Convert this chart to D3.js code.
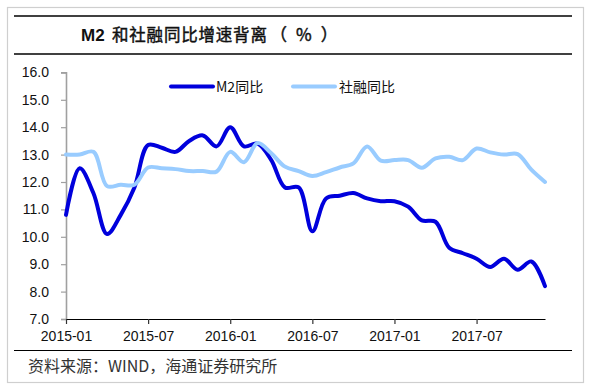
<!DOCTYPE html>
<html>
<head>
<meta charset="utf-8">
<script src="https://cdn.jsdelivr.net/npm/d3@7/dist/d3.min.js"></script>
<style>
  html, body { margin: 0; padding: 0; background: #fff; }
  svg { display: block; }
</style>
</head>
<body>
<div id="chart"></div>
<script>
const months = [
  "2015-01","2015-02","2015-03","2015-04","2015-05","2015-06","2015-07","2015-08","2015-09","2015-10","2015-11","2015-12",
  "2016-01","2016-02","2016-03","2016-04","2016-05","2016-06","2016-07","2016-08","2016-09","2016-10","2016-11","2016-12",
  "2017-01","2017-02","2017-03","2017-04","2017-05","2017-06","2017-07","2017-08","2017-09","2017-10","2017-11","2017-12"
];
const m2Values = [
  10.8, 12.5, 11.6, 10.1, 10.8, 11.8, 13.35, 13.25, 13.1, 13.5, 13.7, 13.3,
  14.0, 13.3, 13.4, 12.8, 11.8, 11.8, 10.2, 11.4, 11.5, 11.6, 11.4, 11.3,
  11.3, 11.1, 10.6, 10.55, 9.6, 9.4, 9.2, 8.9, 9.2, 8.8, 9.1, 8.2
];
const tsfValues = [
  13.0, 13.0, 13.1, 11.85, 11.9, 11.9, 12.53, 12.5, 12.47, 12.4, 12.4, 12.38,
  13.1, 12.72, 13.42, 13.05, 12.56, 12.4, 12.22, 12.36, 12.53, 12.68, 13.3, 12.78,
  12.8, 12.8, 12.52, 12.86, 12.92, 12.8, 13.22, 13.08, 13.0, 13.02, 12.45, 12.0
];
const seriesNames = ["M2同比", "社融同比"];
const xTickLabels = ["2015-01","2015-07","2016-01","2016-07","2017-01","2017-07"];
const yTicks = [7, 8, 9, 10, 11, 12, 13, 14, 15, 16];
const titleMain = "M2";
const titleMid = "和社融同比增速背离";
const titleUnit = "（%）";
const sourceText = "资料来源：WIND，海通证券研究所";

const W = 593, H = 392;
const svg = d3.select("#chart").append("svg").attr("width", W).attr("height", H);

// frame
svg.append("rect").attr("x", 7.5).attr("y", 7.5).attr("width", 576).attr("height", 375)
  .attr("fill", "none").attr("stroke", "#cfcfcf").attr("stroke-width", 1.2);
svg.append("line").attr("x1", 14).attr("x2", 572).attr("y1", 16).attr("y2", 16).attr("stroke", "#000").attr("stroke-width", 1.3);
svg.append("line").attr("x1", 14).attr("x2", 572).attr("y1", 54).attr("y2", 54).attr("stroke", "#000").attr("stroke-width", 1.3);
svg.append("line").attr("x1", 14).attr("x2", 572).attr("y1", 350.5).attr("y2", 350.5).attr("stroke", "#000").attr("stroke-width", 1.2);

// title
const title = svg.append("text").attr("y", 41).attr("fill", "#111");
title.append("tspan").attr("x", 81).text(titleMain)
  .attr("font-family", "Liberation Sans, Arial, sans-serif").attr("font-weight", "bold").attr("font-size", 17);
title.append("tspan").attr("x", 112).text(titleMid)
  .attr("font-family", "Noto Sans CJK SC, sans-serif").attr("font-size", 16.5)
  .attr("letter-spacing", 0.8).attr("stroke", "#111").attr("stroke-width", 0.45);
title.append("tspan").attr("x", 270).text(titleUnit)
  .attr("font-family", "Noto Sans CJK SC, sans-serif").attr("font-size", 17)
  .attr("letter-spacing", 9).attr("stroke", "#111").attr("stroke-width", 0.45);

// source
svg.append("text").attr("x", 28).attr("y", 372).text(sourceText)
  .attr("font-family", "Noto Sans CJK SC, sans-serif").attr("font-size", 16).attr("fill", "#333");

// scales
const x = d3.scalePoint().domain(months).range([66, 545]);
const y = d3.scaleLinear().domain([7, 16]).range([319, 72.4]);

// y axis
const yAxis = svg.append("g").attr("transform", "translate(66,0)")
  .call(d3.axisLeft(y).tickValues(yTicks).tickFormat(d3.format(".1f")).tickSize(5).tickPadding(12));
yAxis.select(".domain").attr("stroke", "#a0a0a0").attr("stroke-width", 1.6);
yAxis.selectAll(".tick line").attr("stroke", "#a0a0a0").attr("stroke-width", 1.2);
yAxis.selectAll(".tick text").attr("font-family", "Liberation Sans, Arial, sans-serif").attr("font-size", 14).attr("fill", "#111");

// x axis
const xAxis = svg.append("g").attr("transform", "translate(0,319)")
  .call(d3.axisBottom(x).tickValues(xTickLabels).tickSize(5).tickSizeOuter(0).tickPadding(7));
xAxis.select(".domain").attr("stroke", "#000").attr("stroke-width", 1.2);
xAxis.selectAll(".tick line").attr("stroke", "#333").attr("stroke-width", 1.2);
xAxis.selectAll(".tick text").attr("font-family", "Liberation Sans, Arial, sans-serif").attr("font-size", 14).attr("fill", "#111");

// lines
const line = d3.line().x((d, i) => x(months[i])).y(d => y(d)).curve(d3.curveCatmullRom.alpha(0.5));
const colors = ["#0000dc", "#99ccff"];
svg.append("path").datum(m2Values).attr("d", line).attr("fill", "none")
  .attr("stroke", colors[0]).attr("stroke-width", 4).attr("stroke-linejoin", "round").attr("stroke-linecap", "round");
svg.append("path").datum(tsfValues).attr("d", line).attr("fill", "none")
  .attr("stroke", colors[1]).attr("stroke-width", 4).attr("stroke-linejoin", "round").attr("stroke-linecap", "round");

// legend
const legendItems = [
  { name: seriesNames[0], color: colors[0], x1: 171, x2: 213, tx: 216 },
  { name: seriesNames[1], color: colors[1], x1: 293, x2: 335, tx: 339 }
];
legendItems.forEach(it => {
  svg.append("line").attr("x1", it.x1).attr("x2", it.x2).attr("y1", 86.5).attr("y2", 86.5)
    .attr("stroke", it.color).attr("stroke-width", 4).attr("stroke-linecap", "round");
  svg.append("text").attr("x", it.tx).attr("y", 91.5).text(it.name)
    .attr("font-family", "Noto Sans CJK SC, sans-serif").attr("font-size", 14).attr("fill", "#111");
});
</script>
</body>
</html>
